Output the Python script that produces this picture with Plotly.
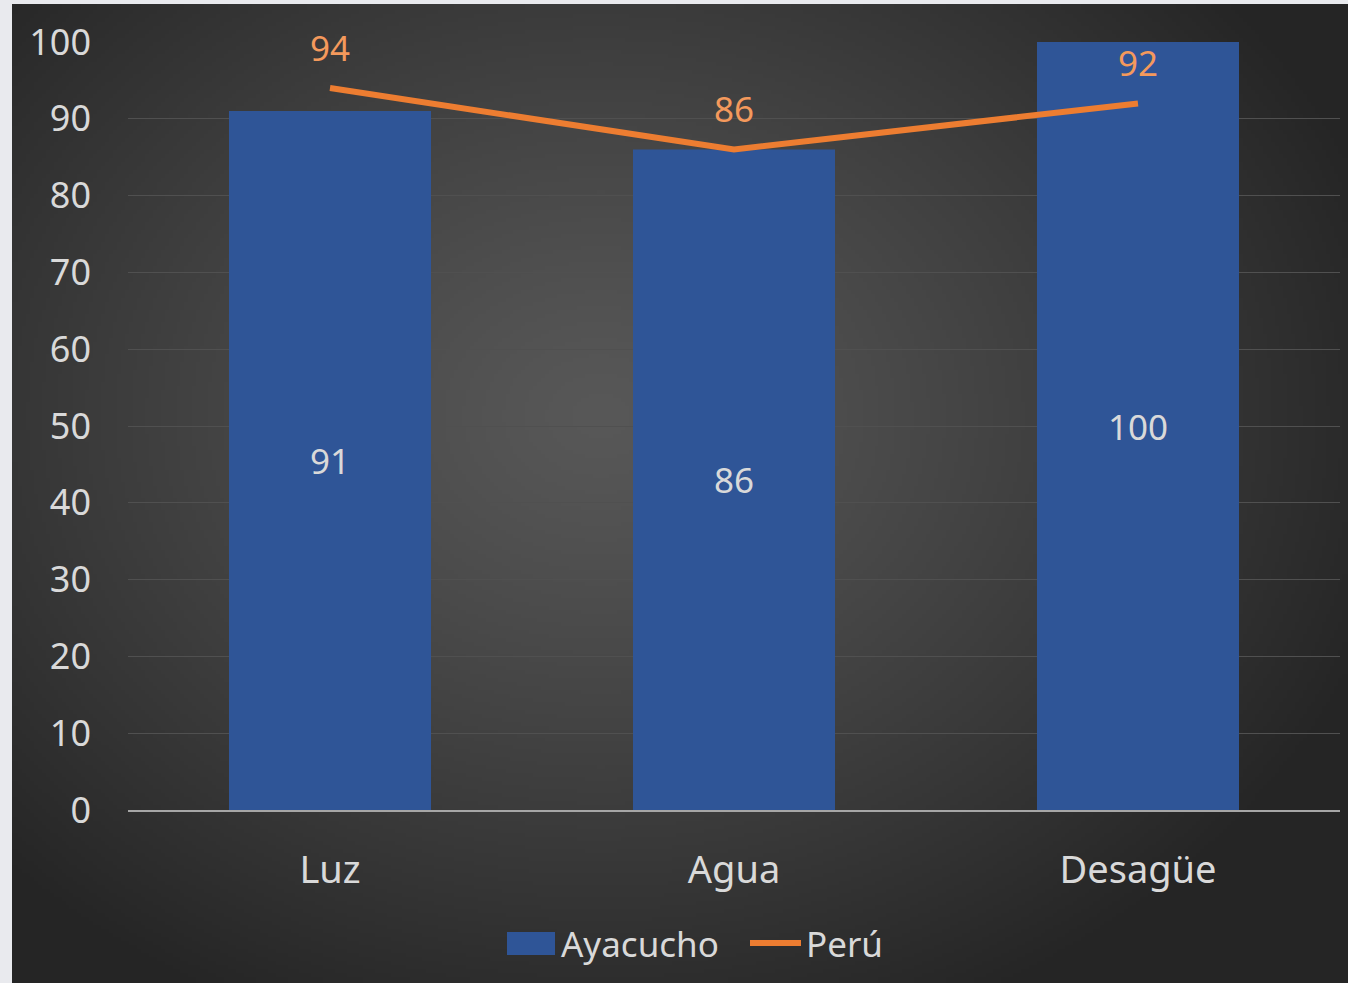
import base64
import struct
import zlib

import numpy as np
import plotly.graph_objects as go

categories = ["Luz", "Agua", "Desagüe"]
ayacucho = [91, 86, 100]
peru = [94, 86, 92]
y_ticks = [0, 10, 20, 30, 40, 50, 60, 70, 80, 90, 100]

W, H = 1348, 983
M_L, M_R, M_T, M_B = 128, 8, 42, 173
FONT = "Noto Sans"
TEXT_GREY = "#d9d9d9"
BLUE = "#2f5597"
ORANGE = "#ed7d31"


def _gradient_png(w, h):
    # dark radial gradient like the slide background
    xs = np.linspace(0, 1, w)
    ys = np.linspace(0, 1, h)
    gx, gy = np.meshgrid(xs, ys)
    d = np.sqrt(((gx - 0.44) / 0.62) ** 2 + ((gy - 0.42) / 0.68) ** 2)
    d = np.clip(d, 0, 1)
    v = (0x58 - (0x58 - 0x25) * d ** 1.2).astype(np.uint8)
    rows = b"".join(b"\x00" + bytes(np.repeat(r, 3)) for r in v)

    def chunk(tag, data):
        c = struct.pack(">I", len(data)) + tag + data
        return c + struct.pack(">I", zlib.crc32(tag + data) & 0xFFFFFFFF)

    png = b"\x89PNG\r\n\x1a\n"
    png += chunk(b"IHDR", struct.pack(">IIBBBBB", w, h, 8, 2, 0, 0, 0))
    png += chunk(b"IDAT", zlib.compress(rows, 9))
    png += chunk(b"IEND", b"")
    return "data:image/png;base64," + base64.b64encode(png).decode()


pw = W - M_L - M_R
ph = H - M_T - M_B


def px_x(x):
    return (x - M_L) / pw


def px_y(y):
    return 1 - (y - M_T) / ph


fig = go.Figure()

fig.add_trace(
    go.Bar(
        x=categories,
        y=ayacucho,
        name="Ayacucho",
        marker=dict(color=BLUE, line=dict(width=0)),
        text=ayacucho,
        textposition="inside",
        insidetextanchor="middle",
        textfont=dict(family=FONT, size=35, color=TEXT_GREY),
        showlegend=False,
    )
)

fig.add_trace(
    go.Scatter(
        x=categories,
        y=peru,
        name="Perú",
        mode="lines+markers+text",
        line=dict(color=ORANGE, width=6),
        marker=dict(size=28, color="rgba(0,0,0,0)"),
        text=peru,
        textposition="top center",
        textfont=dict(family=FONT, size=35, color="#f4995c"),
        cliponaxis=False,
        showlegend=False,
    )
)

fig.add_layout_image(
    dict(
        source=_gradient_png(337, 245),
        xref="paper",
        yref="paper",
        x=px_x(12),
        y=px_y(4),
        sizex=(W - 12) / pw,
        sizey=(H - 4) / ph,
        sizing="stretch",
        xanchor="left",
        yanchor="top",
        layer="below",
    )
)

# legend drawn by hand so the swatches keep their slide size
leg_y = px_y(943)
fig.add_shape(
    type="rect", xref="paper", yref="paper",
    x0=px_x(507), x1=px_x(555), y0=px_y(955), y1=px_y(932),
    fillcolor=BLUE, line=dict(width=0),
)
fig.add_shape(
    type="line", xref="paper", yref="paper",
    x0=px_x(750), x1=px_x(801), y0=leg_y, y1=leg_y,
    line=dict(color=ORANGE, width=6),
)
fig.add_annotation(
    text="Ayacucho", xref="paper", yref="paper", x=px_x(559), y=leg_y,
    xanchor="left", yanchor="middle", showarrow=False,
    font=dict(family=FONT, size=35, color=TEXT_GREY),
)
fig.add_annotation(
    text="Perú", xref="paper", yref="paper", x=px_x(804), y=leg_y,
    xanchor="left", yanchor="middle", showarrow=False,
    font=dict(family=FONT, size=35, color=TEXT_GREY),
)

fig.update_layout(
    width=W,
    height=H,
    margin=dict(l=M_L, r=M_R, t=M_T, b=M_B),
    paper_bgcolor="#e9eaee",
    plot_bgcolor="rgba(0,0,0,0)",
    bargap=0.5,
    showlegend=False,
    font=dict(family=FONT, color=TEXT_GREY),
)

fig.update_yaxes(
    range=[0, 100],
    tickvals=y_ticks,
    showgrid=True,
    gridcolor="#505050",
    gridwidth=1,
    zeroline=False,
    showline=False,
    tickfont=dict(family=FONT, size=36, color=TEXT_GREY),
    ticklabelstandoff=36,
)
fig.update_xaxes(
    showgrid=False,
    showline=True,
    linecolor="#a6a6a6",
    linewidth=2,
    tickfont=dict(family=FONT, size=38, color=TEXT_GREY),
    ticklabelstandoff=25,
)

fig.write_html(
    "out.html",
    config={"displayModeBar": False},
    post_script="document.body.style.margin='0';",
)
